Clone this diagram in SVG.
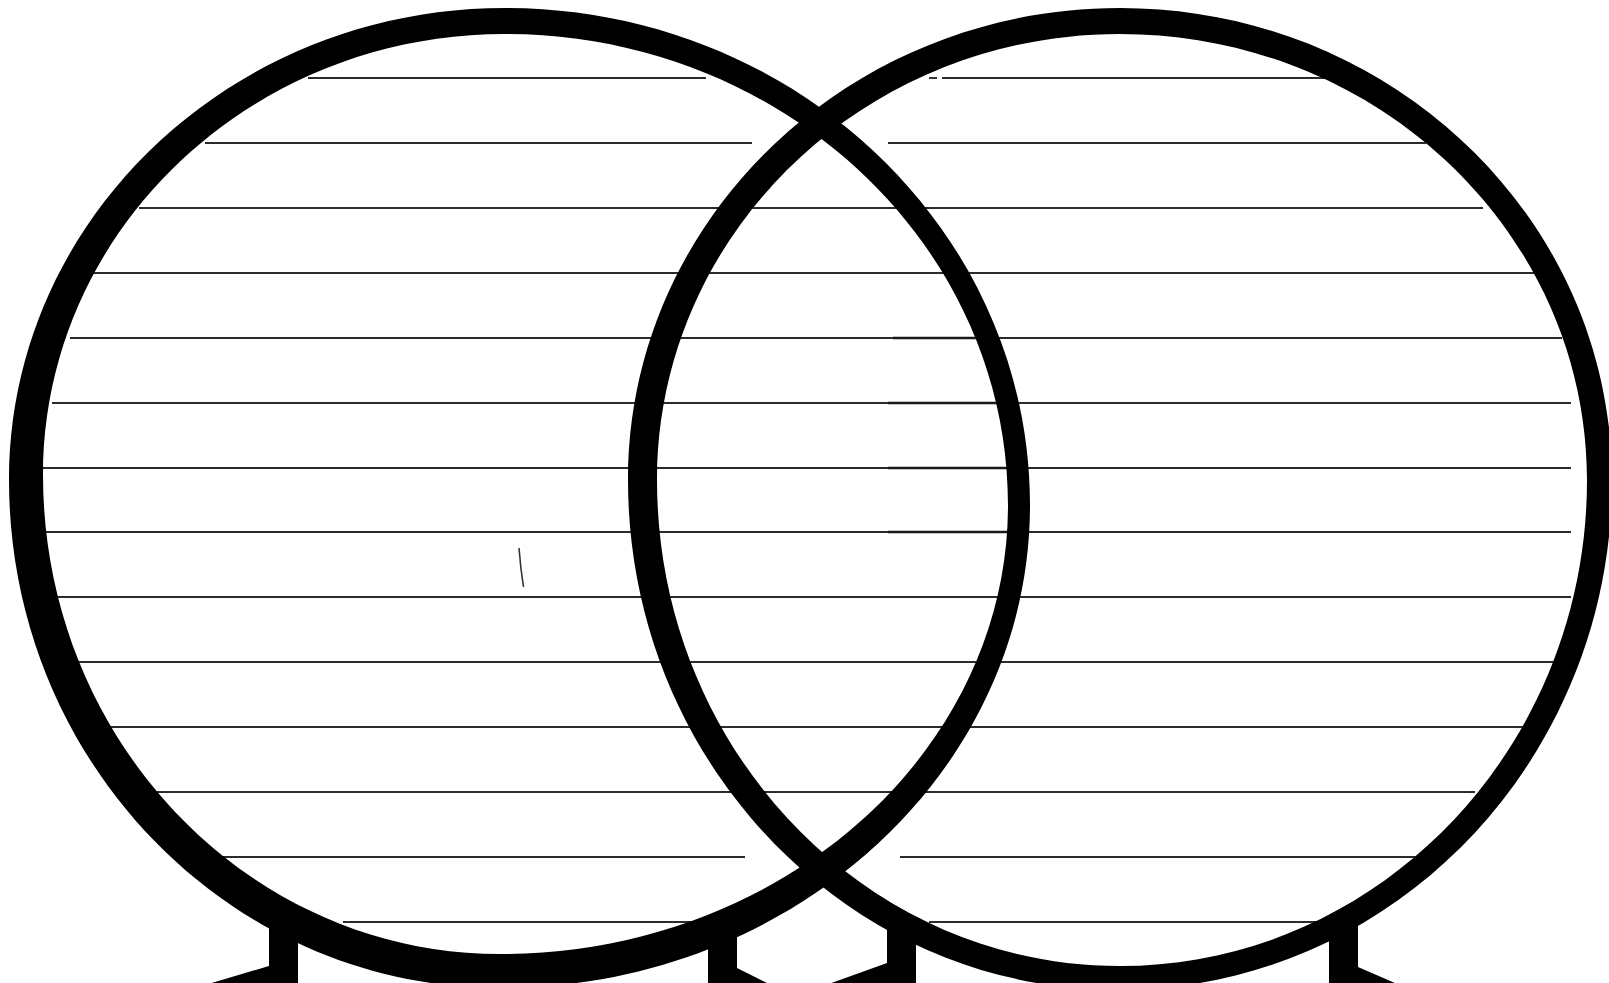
<svg xmlns="http://www.w3.org/2000/svg" width="1609" height="983" viewBox="0 0 1609 983">
<style>
.ln{stroke:#2b2b2b;stroke-width:1.9;fill:none}
.lnb{stroke:#1a1a1a;stroke-width:2.6;fill:none}
.ring{fill:#000;fill-rule:evenodd}
.leg{fill:#000}
</style>
<rect width="1609" height="983" fill="#fff"/>
<g id="ruled-lines">
<line class="ln" x1="308" y1="78" x2="706" y2="78"/>
<line class="ln" x1="929" y1="78" x2="937" y2="78"/>
<line class="ln" x1="942" y1="78" x2="1324" y2="78"/>
<line class="ln" x1="205" y1="143" x2="752" y2="143"/>
<line class="ln" x1="888" y1="143" x2="1426" y2="143"/>
<line class="ln" x1="139" y1="208" x2="1483" y2="208"/>
<line class="ln" x1="80" y1="273" x2="1534" y2="273"/>
<line class="ln" x1="70" y1="338" x2="1562" y2="338"/>
<line class="ln" x1="52" y1="403" x2="1571" y2="403"/>
<line class="ln" x1="43" y1="468" x2="1571" y2="468"/>
<line class="ln" x1="43" y1="532" x2="1571" y2="532"/>
<line class="ln" x1="55" y1="597" x2="1571" y2="597"/>
<line class="ln" x1="78" y1="662" x2="1555" y2="662"/>
<line class="ln" x1="111" y1="727" x2="1526" y2="727"/>
<line class="ln" x1="157" y1="792" x2="1475" y2="792"/>
<line class="ln" x1="200" y1="857" x2="745" y2="857"/>
<line class="ln" x1="900" y1="857" x2="1416" y2="857"/>
<line class="ln" x1="343" y1="922" x2="704" y2="922"/>
<line class="ln" x1="929" y1="922" x2="1320" y2="922"/>
<line class="lnb" x1="893" y1="338" x2="990" y2="338"/>
<line class="lnb" x1="888" y1="403" x2="1005" y2="403"/>
<line class="lnb" x1="888" y1="468" x2="1010" y2="468"/>
<line class="lnb" x1="888" y1="532" x2="1010" y2="532"/>
<path d="M519,548 Q520.5,568 523.5,587" stroke="#333" stroke-width="1.6" fill="none"/>
</g>
<g id="circle-left">
<path class="ring" d="M9,480 C9,219.3 231.1,8 505,8 C795,8 1030,230.5 1030,505 C1030,771.8 792.7,988 500,988 C228.8,988 9,760.6 9,480 Z M43,475 C43,231.4 249.8,34 505,34 C782.8,34 1008,244.9 1008,505 C1008,753 780.6,954 500,954 C247.6,954 43,739.5 43,475 Z"/>
<polygon class="leg" points="269,915 298,915 298,990 188,990 269,966"/>
<polygon class="leg" points="708,930 737,930 737,968 781,990 708,990"/>
</g>
<g id="circle-right">
<path class="ring" d="M628,480 C628,219.3 848.3,8 1120,8 C1391.7,8 1612,219.3 1612,480 C1612,761.7 1390.8,990 1118,990 C847.4,990 628,761.7 628,480 Z M657,480 C657,233.7 864.3,34 1120,34 C1377.9,34 1587,233.7 1587,480 C1587,748.4 1377.9,966 1120,966 C864.3,966 657,748.4 657,480 Z"/>
<polygon class="leg" points="887,920 916,920 916,990 812,990 887,963"/>
<polygon class="leg" points="1329,920 1358,920 1358,967 1411,990 1329,990"/>
</g>
</svg>
